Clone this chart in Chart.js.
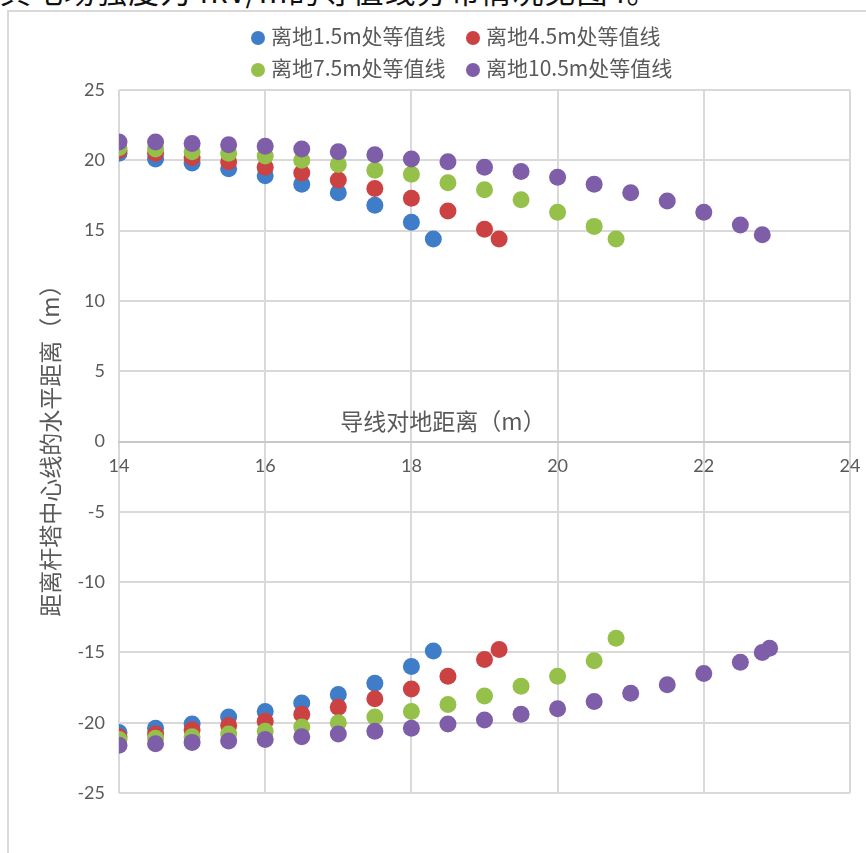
<!DOCTYPE html>
<html>
<head>
<meta charset="utf-8">
<script src="https://cdn.jsdelivr.net/npm/chart.js@4/dist/chart.umd.min.js"></script>
<style>
  body { margin: 0; background: #fff; width: 866px; height: 853px; overflow: hidden; position: relative; }
  #topLine { position: absolute; left: 0px; top: -33px; font: 31px "Noto Sans CJK SC"; color: #111; white-space: nowrap; letter-spacing: 1px; }
  #wrap { position: absolute; left: 0; top: 0; width: 866px; height: 853px; }
  .legend { position: absolute; font: 21px "Noto Sans CJK SC"; color: #595959; white-space: nowrap; }
  .legend i { display: inline-block; width: 14px; height: 14px; border-radius: 50%; margin-right: 6px; vertical-align: -1px; }
</style>
</head>
<body>
<div id="topLine">其电场强度为4kV/m的等值线分布情况见图4。</div>
<div id="wrap"><canvas id="chart" width="866" height="853"></canvas></div>
<script>
const seriesNames = ["离地1.5m处等值线", "离地4.5m处等值线", "离地7.5m处等值线", "离地10.5m处等值线"];
const seriesColors = ["#3f7dc8", "#cc4242", "#95c04a", "#7e5ea8"];

const xBlue = [14, 14.5, 15, 15.5, 16, 16.5, 17, 17.5, 18, 18.3];
const blueUpper = [20.5, 20.1, 19.8, 19.4, 18.9, 18.3, 17.7, 16.8, 15.6, 14.4];
const blueLower = [-20.7, -20.4, -20.1, -19.6, -19.2, -18.6, -18.0, -17.2, -16.0, -14.9];

const xRed = [14, 14.5, 15, 15.5, 16, 16.5, 17, 17.5, 18, 18.5, 19, 19.2];
const redUpper = [20.7, 20.5, 20.2, 19.9, 19.5, 19.1, 18.6, 18.0, 17.3, 16.4, 15.1, 14.4];
const redLower = [-21.0, -20.8, -20.5, -20.2, -19.9, -19.4, -18.9, -18.3, -17.6, -16.7, -15.5, -14.8];

const xGreen = [14, 14.5, 15, 15.5, 16, 16.5, 17, 17.5, 18, 18.5, 19, 19.5, 20, 20.5, 20.8];
const greenUpper = [20.9, 20.8, 20.6, 20.5, 20.3, 20.0, 19.7, 19.3, 19.0, 18.4, 17.9, 17.2, 16.3, 15.3, 14.4];
const greenLower = [-21.2, -21.1, -21.0, -20.8, -20.6, -20.3, -20.0, -19.6, -19.2, -18.7, -18.1, -17.4, -16.7, -15.6, -14.0];

const xPurple = [14, 14.5, 15, 15.5, 16, 16.5, 17, 17.5, 18, 18.5, 19, 19.5, 20, 20.5, 21, 21.5, 22, 22.5, 22.8, 22.9];
const purpleUpper = [21.3, 21.3, 21.2, 21.1, 21.0, 20.8, 20.6, 20.4, 20.1, 19.9, 19.5, 19.2, 18.8, 18.3, 17.7, 17.1, 16.3, 15.4, 14.7, null];
const purpleLower = [-21.6, -21.5, -21.4, -21.3, -21.2, -21.0, -20.8, -20.6, -20.4, -20.1, -19.8, -19.4, -19.0, -18.5, -17.9, -17.3, -16.5, -15.7, -15.0, -14.7];

const xTitle = "导线对地距离（m）";
const yTitle = "距离杆塔中心线的水平距离（m）";

function toPoints(xs, upper, lower) {
  const pts = [];
  xs.forEach((x, i) => {
    if (upper[i] !== null) pts.push({ x: x, y: upper[i] });
    if (lower[i] !== null) pts.push({ x: x, y: lower[i] });
  });
  return pts;
}

const allSeries = [
  toPoints(xBlue, blueUpper, blueLower),
  toPoints(xRed, redUpper, redLower),
  toPoints(xGreen, greenUpper, greenLower),
  toPoints(xPurple, purpleUpper, purpleLower),
];

// html legend, two rows like the original
const legendPos = [[251, 20], [466, 20], [251, 52], [466, 52]];
seriesNames.forEach((name, i) => {
  const d = document.createElement("div");
  d.className = "legend";
  d.style.left = legendPos[i][0] + "px";
  d.style.top = legendPos[i][1] + "px";
  d.innerHTML = '<i style="background:' + seriesColors[i] + '"></i>' + name;
  document.body.appendChild(d);
});

// outer frame + axis titles
const decorations = {
  id: "decorations",
  beforeDraw(chart) {
    const ctx = chart.ctx;
    ctx.save();
    ctx.strokeStyle = "#d9d9d9";
    ctx.lineWidth = 2;
    ctx.beginPath();
    ctx.moveTo(8, 853);
    ctx.lineTo(8, 11);
    ctx.lineTo(866, 11);
    ctx.stroke();
    ctx.restore();
  },
  afterDatasetsDraw(chart) {
    const ctx = chart.ctx;
    const zeroY = chart.scales.y.getPixelForValue(0);
    ctx.save();
    ctx.fillStyle = "#595959";
    ctx.font = '23px "Noto Sans CJK SC"';
    ctx.textAlign = "center";
    ctx.textBaseline = "middle";
    ctx.fillText(xTitle, 443, zeroY - 20);
    ctx.translate(50, 445);
    ctx.rotate(-Math.PI / 2);
    ctx.fillText(yTitle, 0, 0);
    ctx.restore();
  },
};

const ctx = document.getElementById("chart").getContext("2d");
new Chart(ctx, {
  type: "scatter",
  data: {
    datasets: allSeries.map((pts, i) => ({
      label: seriesNames[i],
      data: pts,
      backgroundColor: seriesColors[i],
      borderWidth: 0,
      pointRadius: 8.5,
      pointHoverRadius: 8.5,
      order: 4 - i,
    })),
  },
  options: {
    responsive: false,
    animation: false,
    devicePixelRatio: 1,
    layout: { padding: { left: 0, right: 16, top: 90, bottom: 60 } },
    plugins: {
      legend: { display: false },
      tooltip: { enabled: false },
    },
    scales: {
      x: {
        type: "linear",
        position: { y: 0 },
        min: 14,
        max: 24,
        afterFit(scale) { scale.paddingLeft = 0; scale.paddingRight = 0; },
        ticks: {
          stepSize: 2,
          color: "#595959",
          font: { family: "Lato", size: 18 },
          padding: 14,
        },
        grid: { color: "#d9d9d9", lineWidth: 2, drawTicks: false },
        border: { color: "#c8c8c8", width: 2 },
      },
      y: {
        min: -25,
        max: 25,
        afterFit(scale) { scale.width = 119; },
        ticks: {
          stepSize: 5,
          color: "#595959",
          font: { family: "Lato", size: 18 },
          padding: 14,
        },
        grid: { color: "#d9d9d9", lineWidth: 2, drawTicks: false },
        border: { display: false },
      },
    },
  },
  plugins: [decorations],
});
</script>
</body>
</html>
